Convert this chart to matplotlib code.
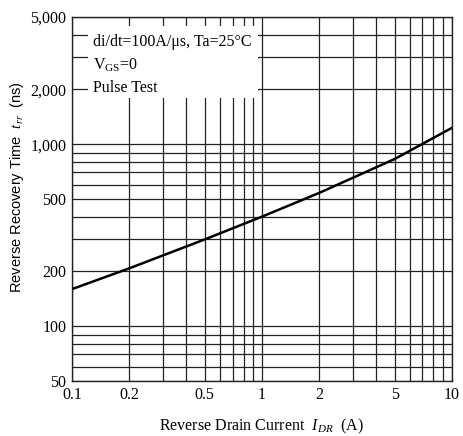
import numpy as np
from matplotlib import pyplot as plt
from matplotlib.ticker import FixedLocator, FixedFormatter, NullFormatter
from matplotlib.patches import Rectangle

plt.rcParams['font.family'] = ['Liberation Serif', 'DejaVu Serif']
plt.rcParams['mathtext.fontset'] = 'custom'
plt.rcParams['mathtext.rm'] = 'Liberation Serif'
plt.rcParams['mathtext.it'] = 'Liberation Serif:italic'

# curve
current = [0.1, 0.2, 0.5, 1, 2, 5, 10]
trr = [160, 208, 300, 400, 540, 830, 1230]

xticks = [0.1, 0.2, 0.5, 1, 2, 5, 10]
xlabels = ['0.1', '0.2', '0.5', '1', '2', '5', '10']
yticks = [50, 100, 200, 500, 1000, 2000, 5000]
ylabels = ['50', '100', '200', '500', '1,000', '2,000', '5,000']

xgrid = [m * d for d in [0.1, 1] for m in range(1, 10)] + [10]
ygrid = [m * d for d in [10, 100, 1000] for m in range(1, 10)]
ygrid = [v for v in ygrid if 50 <= v <= 5000]

fig = plt.figure(figsize=(4.63, 4.36), dpi=100)
ax = fig.add_axes([0.1555, 0.126, 0.8205, 0.835])
ax.set_xscale('log')
ax.set_yscale('log')
ax.set_xlim(0.1, 10)
ax.set_ylim(50, 5000)

for v in xgrid:
    ax.axvline(v, color='#222222', lw=0.9, zorder=1)
for v in ygrid:
    ax.axhline(v, color='#222222', lw=0.9, zorder=1)

# text box masks the grid in upper left
ax.add_patch(Rectangle((0.042, 0.777), 0.448, 0.198, transform=ax.transAxes,
                       facecolor='white', edgecolor='none', zorder=2))

ax.plot(current, trr, color='black', lw=1.8, zorder=3)

ax.text(0.055, 0.931, 'di/dt=100A/\u03bcs, Ta=25\u00b0C', transform=ax.transAxes,
        fontsize=11.5, va='center', zorder=4)
ax.text(0.055, 0.866, 'V$_{\\mathrm{GS}}$=0', transform=ax.transAxes,
        fontsize=11.5, va='center', zorder=4)
ax.text(0.055, 0.805, 'Pulse Test', transform=ax.transAxes,
        fontsize=11.5, va='center', zorder=4)

ax.xaxis.set_major_locator(FixedLocator(xticks))
ax.xaxis.set_major_formatter(FixedFormatter(xlabels))
ax.xaxis.set_minor_formatter(NullFormatter())
ax.yaxis.set_major_locator(FixedLocator(yticks))
ax.yaxis.set_major_formatter(FixedFormatter(ylabels))
ax.yaxis.set_minor_formatter(NullFormatter())
ax.tick_params(which='both', length=0, labelsize=11.5, pad=4)

for s in ax.spines.values():
    s.set_linewidth(1.0)
    s.set_color('#222222')

ax.set_xlabel('Reverse Drain Current  $I_{DR}$  (A)', fontsize=11.5, labelpad=10)
ax.set_ylabel('Reverse Recovery Time  $t_{rr}$  (ns)', fontsize=10.5,
              family=['Liberation Sans', 'DejaVu Sans'])
ax.yaxis.set_label_coords(-0.122, 0.533)

fig.savefig('out.png', dpi=100)
